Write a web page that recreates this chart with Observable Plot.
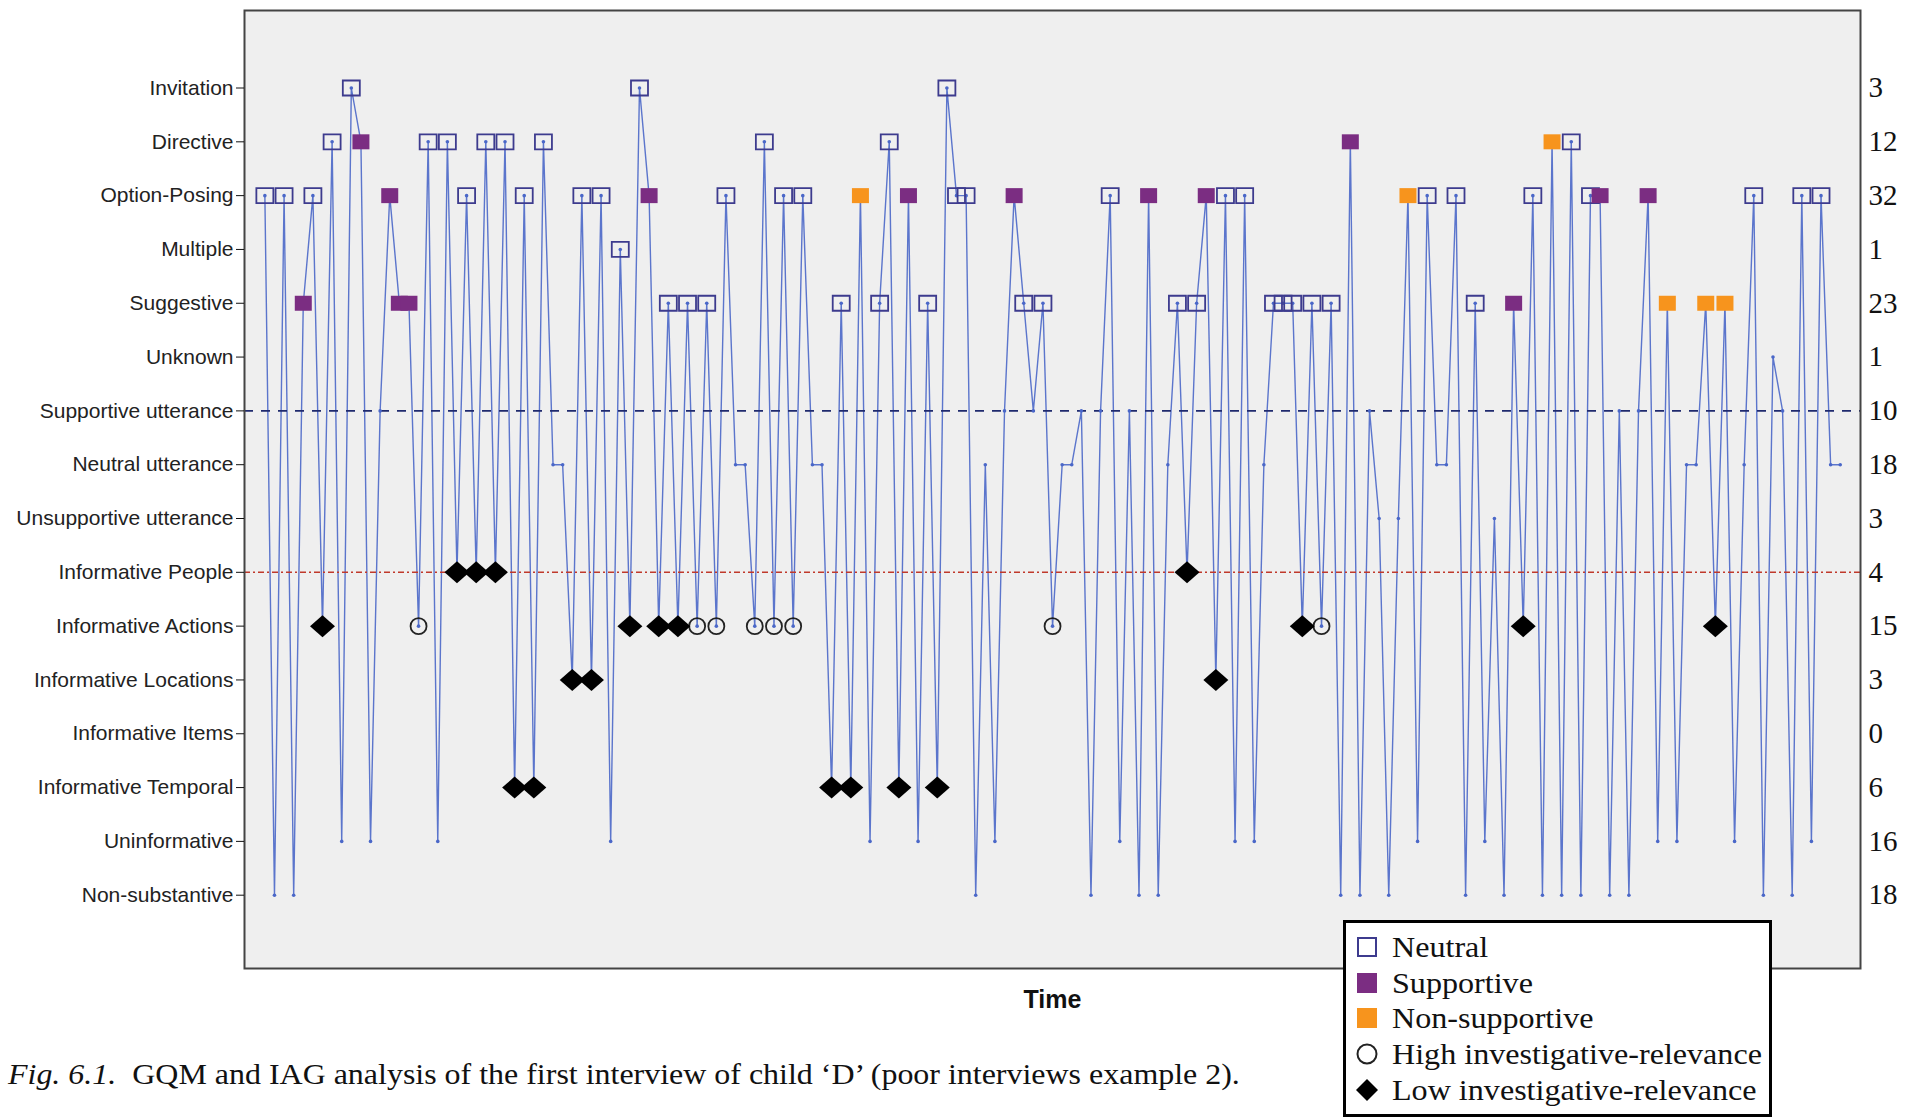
<!DOCTYPE html>
<html><head><meta charset="utf-8">
<script src="https://cdn.jsdelivr.net/npm/d3@7"></script>
<script src="https://cdn.jsdelivr.net/npm/@observablehq/plot@0.6"></script>
<style>
body{margin:0;background:#fff;}
#wrap{position:relative;width:1906px;height:1117px;overflow:hidden;}
#legend{position:absolute;left:1343px;top:920px;width:429px;height:197px;border:3px solid #000;background:#fff;
  font-family:"Liberation Serif","Times New Roman",serif;font-size:30px;color:#111;box-sizing:border-box;padding-top:6px;overflow:hidden;}
.row{height:35.8px;display:flex;align-items:center;white-space:nowrap;}
.row svg{margin-left:10px;margin-right:14px;flex:none;}
.row span{display:inline-block;transform:scaleX(1.07);transform-origin:left center;}
#caption{position:absolute;left:8px;top:1057px;font-family:"Liberation Serif","Times New Roman",serif;font-size:30px;color:#111;white-space:pre;transform:scaleX(1.065);transform-origin:left center;}
</style></head>
<body>
<div id="wrap">
  <div id="chart"></div>
  <div id="legend"></div>
  <div id="caption"><i>Fig. 6.1.</i>  GQM and IAG analysis of the first interview of child ‘D’ (poor interviews example 2).</div>
</div>
<script>
// Categories (top to bottom) and their codes
const categories = ["Invitation","Directive","Option-Posing","Multiple","Suggestive","Unknown",
  "Supportive utterance","Neutral utterance","Unsupportive utterance","Informative People",
  "Informative Actions","Informative Locations","Informative Items","Informative Temporal",
  "Uninformative","Non-substantive"];
const codes = ["Inv","Dir","OP","Mul","Sug","Unk","SU","NU","UU","IP","IA","IL","II","IT","Uni","NS"];
// Right-hand tick labels (counts)
const counts = [3,12,32,1,23,1,10,18,3,4,15,3,0,6,16,18];
// Marker legend
const legendLabels = ["Neutral","Supportive","Non-supportive","High investigative-relevance","Low investigative-relevance"];
// Time sequence: category code + optional marker (N neutral, S supportive, X non-supportive, H high, L low)
const sequence = [
 "OP.N","NS","OP.N","NS","Sug.S","OP.N","IA.L","Dir.N","Uni","Inv.N",
 "Dir.S","Uni","SU","OP.S","Sug.S","Sug.S","IA.H","Dir.N","Uni","Dir.N",
 "IP.L","OP.N","IP.L","Dir.N","IP.L","Dir.N","IT.L","OP.N","IT.L","Dir.N",
 "NU","NU","IL.L","OP.N","IL.L","OP.N","Uni","Mul.N","IA.L","Inv.N",
 "OP.S","IA.L","Sug.N","IA.L","Sug.N","IA.H","Sug.N","IA.H","OP.N","NU",
 "NU","IA.H","Dir.N","IA.H","OP.N","IA.H","OP.N","NU","NU","IT.L",
 "Sug.N","IT.L","OP.X","Uni","Sug.N","Dir.N","IT.L","OP.S","Uni","Sug.N",
 "IT.L","Inv.N","OP.N","OP.N","NS","NU","Uni","SU","OP.S","Sug.N",
 "SU","Sug.N","IA.H","NU","NU","SU","NS","SU","OP.N","Uni",
 "SU","NS","OP.S","NS","NU","Sug.N","IP.L","Sug.N","OP.S","IL.L",
 "OP.N","Uni","OP.N","Uni","NU","Sug.N","Sug.N","Sug.N","IA.L","Sug.N",
 "IA.H","Sug.N","NS","Dir.S","NS","SU","UU","NS","UU","OP.X",
 "Uni","OP.N","NU","NU","OP.N","NS","Sug.N","Uni","UU","NS",
 "Sug.S","IA.L","OP.N","NS","Dir.X","NS","Dir.N","NS","OP.N","OP.S",
 "NS","SU","NS","SU","OP.S","Uni","Sug.X","Uni","NU","NU",
 "Sug.X","IA.L","Sug.X","Uni","NU","OP.N","NS","Unk","SU","NS",
 "OP.N","Uni","OP.N","NU","NU"
];

const points = sequence.map((s, i) => {
  const [c, m] = s.split(".");
  return {t: i + 1, cat: categories[codes.indexOf(c)], mark: m || ""};
});

const lineColor = "#4a67c8";
const rectSym = {draw(ctx){ ctx.moveTo(-8.5,-7.5); ctx.lineTo(8.5,-7.5); ctx.lineTo(8.5,7.5); ctx.lineTo(-8.5,7.5); ctx.closePath(); }};
const diamondSym = {draw(ctx){ ctx.moveTo(0,-11); ctx.lineTo(12.5,0); ctx.lineTo(0,11); ctx.lineTo(-12.5,0); ctx.closePath(); }};
const byMark = m => points.filter(d => d.mark === m);

const chart = Plot.plot({
  width: 1906, height: 1117,
  marginLeft: 244, marginRight: 46, marginTop: 10, marginBottom: 149,
  style: {background: "transparent", fontFamily: "'Liberation Sans', Arial, sans-serif", fontSize: "21px", color: "#222"},
  x: {domain: [-1.12, 167.11], axis: null},
  y: {type: "point", domain: categories, range: [87.5, 894.7], padding: 0, round: false, axis: null},
  marks: [
    Plot.frame({fill: "#efefef", stroke: "none"}),
    Plot.line(points, {x: "t", y: "cat", stroke: lineColor, strokeWidth: 1.4, strokeOpacity: 0.9}),
    Plot.ruleY([categories[6]], {stroke: "#1f2a6e", strokeWidth: 1.6, strokeDasharray: "9,8"}),
    Plot.ruleY([categories[9]], {stroke: "#c0392b", strokeWidth: 1.6, strokeDasharray: "6,3,2,3"}),
    Plot.dot(points, {x: "t", y: "cat", r: 1.8, fill: lineColor}),
    Plot.dot(byMark("N"), {x: "t", y: "cat", symbol: rectSym, fill: "none", stroke: "#3d3b8e", strokeWidth: 1.8}),
    Plot.dot(byMark("S"), {x: "t", y: "cat", symbol: rectSym, fill: "#7b2d82", stroke: "none"}),
    Plot.dot(byMark("X"), {x: "t", y: "cat", symbol: rectSym, fill: "#f7941d", stroke: "none"}),
    Plot.dot(byMark("H"), {x: "t", y: "cat", r: 8, fill: "none", stroke: "#222", strokeWidth: 1.8}),
    Plot.dot(byMark("L"), {x: "t", y: "cat", symbol: diamondSym, fill: "#000", stroke: "none"}),
    Plot.frame({stroke: "#444", strokeWidth: 2}),
    Plot.axisY({anchor: "left", tickSize: 8, tickPadding: 3, fontSize: 21, label: null, stroke: "#111"}),
    Plot.text(categories, {y: d => d, text: (d, i) => String(counts[i]), frameAnchor: "right", dx: 8,
      textAnchor: "start", fontFamily: "'Liberation Serif', 'Times New Roman', serif", fontSize: 29, fill: "#111"}),
    Plot.text(["Time"], {frameAnchor: "bottom", dy: 39, fontWeight: "bold", fontSize: 25, fill: "#111"})
  ]
});
document.getElementById("chart").appendChild(chart);

// Legend
const legendSym = [
  '<rect x="2" y="2" width="18" height="18" fill="none" stroke="#3d3b8e" stroke-width="2"/>',
  '<rect x="1" y="1" width="20" height="20" fill="#7b2d82"/>',
  '<rect x="1" y="1" width="20" height="20" fill="#f7941d"/>',
  '<circle cx="11" cy="11" r="9.5" fill="none" stroke="#222" stroke-width="2"/>',
  '<path d="M11 0 L22 11 L11 22 L0 11 Z" fill="#000"/>'
];
const leg = document.getElementById("legend");
legendLabels.forEach((lab, i) => {
  const row = document.createElement("div");
  row.className = "row";
  row.innerHTML = `<svg width="22" height="22" viewBox="0 0 22 22">${legendSym[i]}</svg><span>${lab}</span>`;
  leg.appendChild(row);
});
</script>
</body></html>
